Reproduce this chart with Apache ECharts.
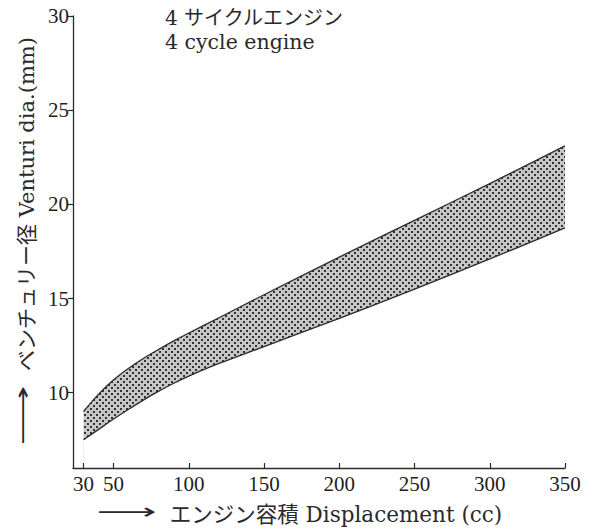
<!DOCTYPE html>
<html>
<head>
<meta charset="utf-8">
<script src="https://cdn.jsdelivr.net/npm/echarts@6/dist/echarts.min.js"></script>
<style>html,body{margin:0;padding:0;background:#fff}#c{width:595px;height:530px}</style>
</head>
<body>
<div id="c"></div>
<script>
// Data
var displacement = [30, 40, 50, 60, 70, 80, 90, 100, 120, 150, 200, 250, 300, 350];
var upperDia     = [9.0, 9.92, 10.68, 11.3, 11.83, 12.3, 12.75, 13.17, 13.98, 15.2, 17.2, 19.15, 21.1, 23.1];
var lowerDia     = [7.5, 8.05, 8.6, 9.12, 9.62, 10.08, 10.5, 10.88, 11.55, 12.45, 13.95, 15.5, 17.1, 18.75];
var xTicks = [30, 50, 100, 150, 200, 250, 300, 350];
var yTicks = [10, 15, 20, 25, 30];
var noteLines = ['4 サイクルエンジン', '4 cycle engine'];
var yName = 'ベンチュリー径 Venturi dia.(mm)';
var xName = 'エンジン容積 Displacement (cc)';

// dotted screen pattern
var pc = document.createElement('canvas');
pc.width = 6; pc.height = 6;
var g = pc.getContext('2d');
g.fillStyle = '#c6c6c6'; g.fillRect(0, 0, 6, 6);
g.fillStyle = '#333333';
g.fillRect(0, 0, 2, 2); g.fillRect(3, 3, 2, 2);
var patternURL = pc.toDataURL();

var upperData = displacement.map(function (x, i) { return [x, upperDia[i]]; });
var lowerData = displacement.map(function (x, i) { return [x, lowerDia[i]]; });

var chart = echarts.init(document.getElementById('c'), null, { renderer: 'svg' });
var lineCol = '#2a2a2a';
chart.setOption({
  animation: false,
  backgroundColor: '#fff',
  grid: { left: 73, right: 30, top: 16, bottom: 62, containLabel: false, outerBoundsMode: 'none' },
  xAxis: {
    type: 'value', min: 23, max: 350, z: 10,
    axisLine: { lineStyle: { color: lineCol, width: 1.3 } },
    axisTick: { inside: true, length: 5, customValues: xTicks, lineStyle: { color: lineCol, width: 1.2 } },
    axisLabel: { customValues: xTicks, margin: 5, color: '#1e1e1e', fontFamily: 'Liberation Serif', fontSize: 21 },
    splitLine: { show: false },
    name: xName,
    nameLocation: 'middle', nameGap: 36,
    nameTextStyle: {
      color: '#2a2a2a', fontFamily: 'DejaVu Serif, Noto Sans CJK JP', fontSize: 21.5,
      padding: [0, 0, 0, 34]
    }
  },
  yAxis: {
    type: 'value', min: 6, max: 30, z: 10,
    axisLine: { show: true, lineStyle: { color: lineCol, width: 1.3 } },
    axisTick: { show: true, inside: false, length: 5, customValues: yTicks, lineStyle: { color: lineCol, width: 1.2 } },
    axisLabel: { customValues: yTicks, margin: 4, color: '#1e1e1e', fontFamily: 'Liberation Serif', fontSize: 21 },
    splitLine: { show: false },
    name: yName,
    nameLocation: 'middle', nameGap: 16, nameRotate: 90,
    nameTextStyle: {
      color: '#2a2a2a', fontFamily: 'DejaVu Serif, Noto Sans CJK JP', fontSize: 21,
      padding: [0, 0, 0, 76]
    }
  },
  graphic: [
    { type: 'text', left: 165, top: 8, z: 20, style: { text: noteLines[0], fill: '#2a2a2a', font: '20px "DejaVu Serif", "Noto Sans CJK JP"' } },
    { type: 'text', left: 165, top: 31, z: 20, style: { text: noteLines[1], fill: '#2a2a2a', font: '20.5px "DejaVu Serif"' } },
    { type: 'text', left: 97, top: 500, scaleX: 1.9, z: 20, style: { text: '⟶', fill: '#2a2a2a', font: '22px "DejaVu Sans"' } },
    { type: 'text', left: 11, top: 385, rotation: Math.PI / 2, scaleX: 1.9, z: 20, style: { text: '⟶', fill: '#2a2a2a', font: '22px "DejaVu Sans"' } }
  ],
  series: [
    {
      type: 'line', name: 'upper', data: upperData, z: 2,
      smooth: 0.3, symbol: 'none',
      lineStyle: { color: lineCol, width: 1.3 },
      areaStyle: { color: { image: patternURL, repeat: 'repeat' }, opacity: 1, origin: 'start' }
    },
    {
      type: 'line', name: 'lower', data: lowerData, z: 3,
      smooth: 0.3, symbol: 'none',
      lineStyle: { color: lineCol, width: 1.3 },
      areaStyle: { color: '#ffffff', opacity: 1, origin: 'start' }
    }
  ]
});
</script>
</body>
</html>
